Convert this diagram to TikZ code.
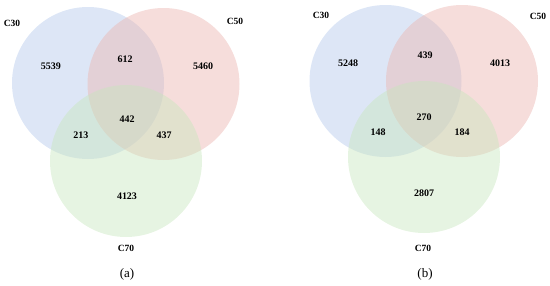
\documentclass[tikz,border=0pt]{standalone}
\usepackage{fontspec}
\setmainfont{Liberation Serif}
\definecolor{setblue}{RGB}{180,200,235}
\definecolor{setred}{RGB}{235,180,175}
\definecolor{setgreen}{RGB}{200,230,190}

\begin{document}
\begin{tikzpicture}[x=1pt, y=-1pt]
        \tikzstyle{c30} = [fill=setblue, fill opacity=0.45]
        \tikzstyle{c50} = [fill=setred, fill opacity=0.45]
        \tikzstyle{c70} = [fill=setgreen, fill opacity=0.45]
        \tikzstyle{count} = [inner sep=0pt, font=\fontsize{10}{12}\selectfont\bfseries]
        \tikzstyle{setname} = [inner sep=0pt, font=\fontsize{9.5}{11}\selectfont\bfseries]
        \tikzstyle{panel} = [inner sep=0pt, font=\fontsize{13}{15}\selectfont]

        \useasboundingbox (0,0) rectangle (550,285);

        % panel (a)
        \fill [c30] (88,83) circle (76);
        \fill [c50] (163.5,84) circle (76);
        \fill [c70] (126,161) circle (76);

        \node [setname] (a30) at (12,23) {C30};
        \node [setname] (a50) at (235,21) {C50};
        \node [setname] (a70) at (126,248) {C70};

        \node [count] (a1) at (51,66) {5539};
        \node [count] (a12) at (125,59) {612};
        \node [count] (a2) at (203,66) {5460};
        \node [count] (a123) at (127,119) {442};
        \node [count] (a13) at (81,135) {213};
        \node [count] (a23) at (164,135) {437};
        \node [count] (a3) at (127,196) {4123};

        \node [panel] (capa) at (127,274) {(a)};

        % panel (b)
        \fill [c30] (385.5,81) circle (76);
        \fill [c50] (462,81) circle (76);
        \fill [c70] (424,157) circle (76);

        \node [setname] (b30) at (321,15) {C30};
        \node [setname] (b50) at (538,16) {C50};
        \node [setname] (b70) at (423,248) {C70};

        \node [count] (b1) at (348,63) {5248};
        \node [count] (b12) at (425,55) {439};
        \node [count] (b2) at (500,63) {4013};
        \node [count] (b123) at (424,117) {270};
        \node [count] (b13) at (378,132) {148};
        \node [count] (b23) at (462,132) {184};
        \node [count] (b3) at (424,193) {2807};

        \node [panel] (capb) at (425,274) {(b)};
    \end{tikzpicture}
\end{document}
